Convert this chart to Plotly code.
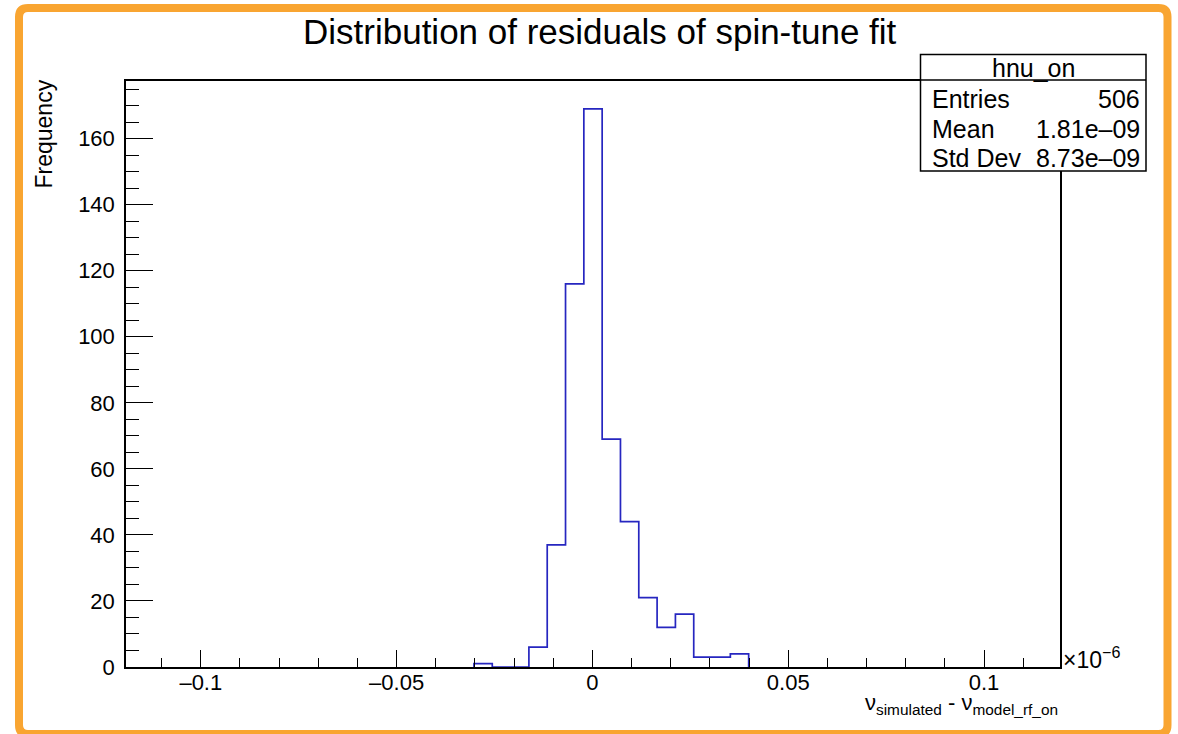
import numpy as np
import plotly.graph_objects as go

# ---------------- data ----------------
x_min = -0.1191          # histogram / axis range (units of 1e-6)
x_max = 0.1194
n_bins = 51
counts = [0] * 19 + [1, 0, 0, 6, 37, 116, 169, 69, 44, 21, 12, 16, 3, 3, 4] + [0] * 17
x_tick_vals = [-0.1, -0.05, 0, 0.05, 0.1]
x_tick_text = ["\u20130.1", "\u20130.05", "0", "0.05", "0.1"]
y_tick_vals = [0, 20, 40, 60, 80, 100, 120, 140, 160]
stats_rows = [("Entries", "506"), ("Mean", "1.81e\u201309"), ("Std Dev", "8.73e\u201309")]
hist_name = "hnu_on"
title_text = "Distribution of residuals of spin-tune fit"

# ---------------- layout geometry ----------------
W, H = 1178, 734
L, R, T, B = 126, 118, 81, 67
PW, PH = W - L - R, H - T - B
FONT = "Liberation Sans, Arial, sans-serif"


def px(xp):
    return (xp - L) / PW


def py(yp):
    return (H - B - yp) / PH


width = (x_max - x_min) / n_bins
edges = x_min + width * np.arange(n_bins + 1)
nz = [i for i, c in enumerate(counts) if c > 0]
i0, i1 = nz[0], nz[-1] + 1
xs = list(edges[i0:i1 + 1])
ys = [counts[i] for i in range(i0, i1)] + [0]
xs = [xs[0]] + xs
ys = [0] + ys
y_max = 1.05 * max(counts)

fig = go.Figure()
fig.add_trace(go.Scatter(
    x=xs, y=ys, mode="lines", line=dict(shape="hv", color="#2626c0", width=1.7),
    hoverinfo="skip", showlegend=False, cliponaxis=True))

fig.update_layout(
    width=W, height=H,
    margin=dict(l=L, r=R, t=T, b=B, pad=0),
    paper_bgcolor="white", plot_bgcolor="white",
    font=dict(family=FONT, size=22, color="black"),
    showlegend=False,
)

fig.update_xaxes(
    range=[x_min, x_max], showgrid=False, zeroline=False,
    showline=True, linecolor="black", linewidth=1.5, mirror=True,
    tickmode="array", tickvals=x_tick_vals, ticktext=x_tick_text,
    ticks="inside", ticklen=17, tickwidth=1.3, tickcolor="black",
    ticklabelstandoff=-5,
    minor=dict(tickmode="array", tickvals=list(np.round(np.arange(-0.11, 0.111, 0.01), 3)),
               ticks="inside", ticklen=9, tickwidth=1.3, tickcolor="black", showgrid=False),
    tickfont=dict(size=22, family=FONT),
)
fig.update_yaxes(
    range=[0, y_max], showgrid=False, zeroline=False,
    showline=True, linecolor="black", linewidth=1.5, mirror=True,
    tickmode="array", tickvals=y_tick_vals,
    ticks="inside", ticklen=27, tickwidth=1.3, tickcolor="black",
    ticklabelstandoff=5,
    minor=dict(tickmode="array", tickvals=list(range(0, 180, 5)),
               ticks="inside", ticklen=13, tickwidth=1.3, tickcolor="black", showgrid=False),
    tickfont=dict(size=22, family=FONT),
)

shapes = []
# orange rounded frame around the whole picture
bx0, by0, bx1, by1, rr = 19, 8, 1167.5, 734, 9
rx, ry = rr / PW, rr / PH
X0, X1, Y0, Y1 = px(bx0), px(bx1), py(by0), py(by1)
path = (f"M {X0 + rx},{Y0} L {X1 - rx},{Y0} Q {X1},{Y0} {X1},{Y0 - ry} "
        f"L {X1},{Y1 + ry} Q {X1},{Y1} {X1 - rx},{Y1} L {X0 + rx},{Y1} "
        f"Q {X0},{Y1} {X0},{Y1 + ry} L {X0},{Y0 - ry} Q {X0},{Y0} {X0 + rx},{Y0} Z")
shapes.append(dict(type="path", xref="paper", yref="paper", path=path,
                   line=dict(color="#F9A531", width=8), layer="above"))
# stats box
sx0, sy0, sx1, sy1, sh = 920.5, 54.5, 1146, 171, 80
shapes.append(dict(type="rect", xref="paper", yref="paper",
                   x0=px(sx0), x1=px(sx1), y0=py(sy1), y1=py(sy0),
                   line=dict(color="black", width=1.5), fillcolor="white", layer="above"))
shapes.append(dict(type="line", xref="paper", yref="paper",
                   x0=px(sx0), x1=px(sx1), y0=py(sh), y1=py(sh),
                   line=dict(color="black", width=1.5), layer="above"))
fig.update_layout(shapes=shapes)

ann = []
ann.append(dict(text=title_text, x=px(600), y=py(32), xref="paper", yref="paper",
                xanchor="center", yanchor="middle", showarrow=False,
                font=dict(size=35, family=FONT, color="black")))
ann.append(dict(text=hist_name, x=px((sx0 + sx1) / 2), y=py(68), xref="paper", yref="paper",
                xanchor="center", yanchor="middle", showarrow=False,
                font=dict(size=25, family=FONT)))
row_y = [99.5, 129, 158]
for (lab, val), yy in zip(stats_rows, row_y):
    ann.append(dict(text=lab, x=px(930), y=py(yy), xref="paper", yref="paper",
                    xanchor="left", yanchor="middle", showarrow=False,
                    font=dict(size=25, family=FONT)))
    ann.append(dict(text=val, x=px(1142), y=py(yy), xref="paper", yref="paper",
                    xanchor="right", yanchor="middle", showarrow=False,
                    font=dict(size=25, family=FONT)))
ann.append(dict(text="Frequency", x=px(43), y=py(78), xref="paper", yref="paper",
                xanchor="center", yanchor="top", textangle=-90, showarrow=False,
                font=dict(size=23, family=FONT)))
ann.append(dict(text="\u03bd<sub>simulated</sub> - \u03bd<sub>model_rf_on</sub>",
                x=px(1060), y=py(688), xref="paper", yref="paper",
                xanchor="right", yanchor="top", showarrow=False,
                font=dict(size=22, family=FONT)))
ann.append(dict(text="\u00d710<sup>\u22126</sup>", x=px(1061), y=py(675), xref="paper", yref="paper",
                xanchor="left", yanchor="bottom", showarrow=False,
                font=dict(size=23, family=FONT)))
fig.update_layout(annotations=ann)

fig.write_html("out.html")
